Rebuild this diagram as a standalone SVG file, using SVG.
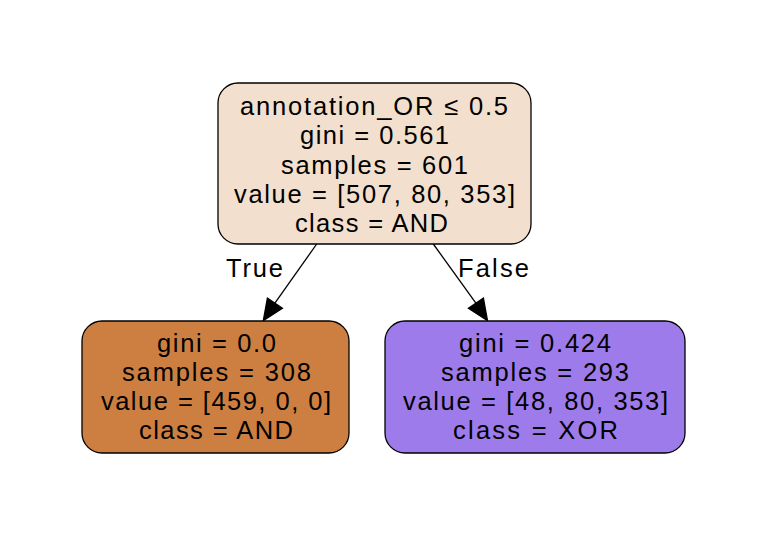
<svg xmlns="http://www.w3.org/2000/svg" width="766" height="537" viewBox="0 0 766 537">
<defs>
<style>
.box{stroke:#000;stroke-width:1.3}
text{font-family:"Liberation Sans",Arial,sans-serif;font-size:25.5px;text-anchor:middle;fill:#000}
.edge{stroke:#000;stroke-width:1.3;fill:none}
.head{fill:#000;stroke:#000;stroke-width:1.3}
</style>
</defs>
<rect width="766" height="537" fill="#fff"/>
<g id="connectors">
<g id="e1">
<line class="edge" x1="316.7" y1="244" x2="274.9" y2="303.2"/>
<polygon class="head" points="263.3,320.7 267.4,298.2 282.4,308.2"/>
<text x="254.5" y="277" textLength="57" lengthAdjust="spacing">True</text>
</g>
<g id="e2">
<line class="edge" x1="433.3" y1="244" x2="475.9" y2="303.2"/>
<polygon class="head" points="487.5,320.7 483.4,298.2 468.4,308.2"/>
<text x="493.5" y="277" textLength="71" lengthAdjust="spacing">False</text>
</g>
</g>
<g id="root">
<rect class="box" x="218" y="83" width="313" height="161" rx="20" fill="#f2dfce"/>
<text x="374" y="115" textLength="268" lengthAdjust="spacing">annotation_OR ≤ 0.5</text>
<text x="374.5" y="144" textLength="149" lengthAdjust="spacing">gini = 0.561</text>
<text x="374.5" y="173.5" textLength="187" lengthAdjust="spacing">samples = 601</text>
<text x="374.5" y="202.5" textLength="281" lengthAdjust="spacing">value = [507, 80, 353]</text>
<text x="371.5" y="231.5" textLength="153" lengthAdjust="spacing">class = AND</text>
</g>
<g id="left">
<rect class="box" x="82" y="321" width="267" height="132" rx="20" fill="#cd7f41"/>
<text x="216.5" y="352" textLength="119" lengthAdjust="spacing">gini = 0.0</text>
<text x="216.5" y="381" textLength="189" lengthAdjust="spacing">samples = 308</text>
<text x="216" y="410" textLength="230" lengthAdjust="spacing">value = [459, 0, 0]</text>
<text x="216" y="439" textLength="154" lengthAdjust="spacing">class = AND</text>
</g>
<g id="right">
<rect class="box" x="385" y="321" width="300" height="132" rx="20" fill="#9e7bea"/>
<text x="535" y="352" textLength="152" lengthAdjust="spacing">gini = 0.424</text>
<text x="535" y="381" textLength="188" lengthAdjust="spacing">samples = 293</text>
<text x="535.5" y="410" textLength="265" lengthAdjust="spacing">value = [48, 80, 353]</text>
<text x="535.5" y="439" textLength="165" lengthAdjust="spacing">class = XOR</text>
</g>
</svg>
